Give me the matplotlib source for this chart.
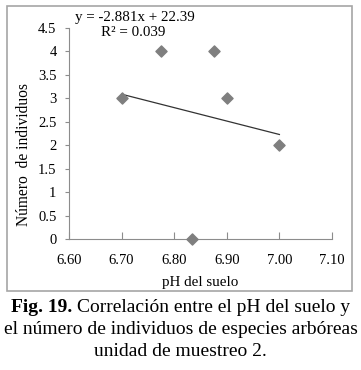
import numpy as np
import matplotlib.pyplot as plt
from matplotlib.patches import Rectangle

# datos
ph = [6.70, 6.775, 6.875, 6.90, 7.00, 6.833]
individuos = [3, 4, 4, 3, 2, 0]
xticks = [6.60, 6.70, 6.80, 6.90, 7.00, 7.10]
yticks = [0, 0.5, 1, 1.5, 2, 2.5, 3, 3.5, 4, 4.5]

plt.rcParams['font.family'] = ['Liberation Serif', 'DejaVu Serif']

fig = plt.figure(figsize=(3.61, 3.70), dpi=100)
gris = '#8c8c8c'

# marco del grafico
fig.patches.append(Rectangle((7 / 361, 1 - 291 / 370), 345 / 361, 285 / 370,
                             transform=fig.transFigure, fill=False,
                             edgecolor='#a6a6a6', linewidth=1.2))

ax = fig.add_axes([69 / 361, 1 - 239 / 370, 263 / 361, 211 / 370])
ax.scatter(ph, individuos, marker='D', s=32, color='#7f7f7f', zorder=3, clip_on=False)

# linea de tendencia
m, b = np.polyfit(ph, individuos, 1)
xl = np.array([min(ph), max(ph)])
ax.plot(xl, m * xl + b, color='#333333', linewidth=0.9)

ax.set_xlim(6.60, 7.10)
ax.set_ylim(0, 4.5)
ax.set_xticks(xticks)
ax.set_xticklabels([f'{t:.2f}' for t in xticks])
ax.set_yticks(yticks)
ax.set_yticklabels([f'{t:g}' for t in yticks])
ax.tick_params(axis='x', direction='in', length=5, color=gris, labelsize=10.5, pad=11)
ax.tick_params(axis='y', direction='out', length=3, color=gris, labelsize=10.5, pad=6)
for s in ['top', 'right']:
    ax.spines[s].set_visible(False)
for s in ['left', 'bottom']:
    ax.spines[s].set_color(gris)
    ax.spines[s].set_linewidth(0.8)

ax.set_xlabel('pH del suelo', fontsize=10.8, labelpad=6)
ax.set_ylabel('Número  de individuos', fontsize=11.2)
ax.yaxis.set_label_coords(32 / 361, 1 - 155 / 370, transform=fig.transFigure)

fig.text(75 / 361, 1 - 17 / 370, 'y = -2.881x + 22.39', fontsize=10.8, va='center')
fig.text(101 / 361, 1 - 33 / 370, 'R² = 0.039', fontsize=10.8, va='center')

# pie de figura: primera linea con "Fig. 19." en negrita
fs = 14
r = fig.canvas.get_renderer()
t1 = fig.text(0, 1 - 307 / 370, 'Fig. 19. ', fontsize=fs, fontweight='bold', va='center')
t2 = fig.text(0, 1 - 307 / 370, 'Correlación entre el pH del suelo y', fontsize=fs, va='center')
w1 = t1.get_window_extent(r).width
w2 = t2.get_window_extent(r).width
x0 = (fig.bbox.width - w1 - w2) / 2
t1.set_x(x0 / fig.bbox.width)
t2.set_x((x0 + w1) / fig.bbox.width)
fig.text(0.5, 1 - 330 / 370, 'el número de individuos de especies arbóreas',
         fontsize=fs, ha='center', va='center')
fig.text(0.5, 1 - 352 / 370, 'unidad de muestreo 2.',
         fontsize=fs, ha='center', va='center')

fig.savefig('out.png', dpi=100)
plt.close(fig)
